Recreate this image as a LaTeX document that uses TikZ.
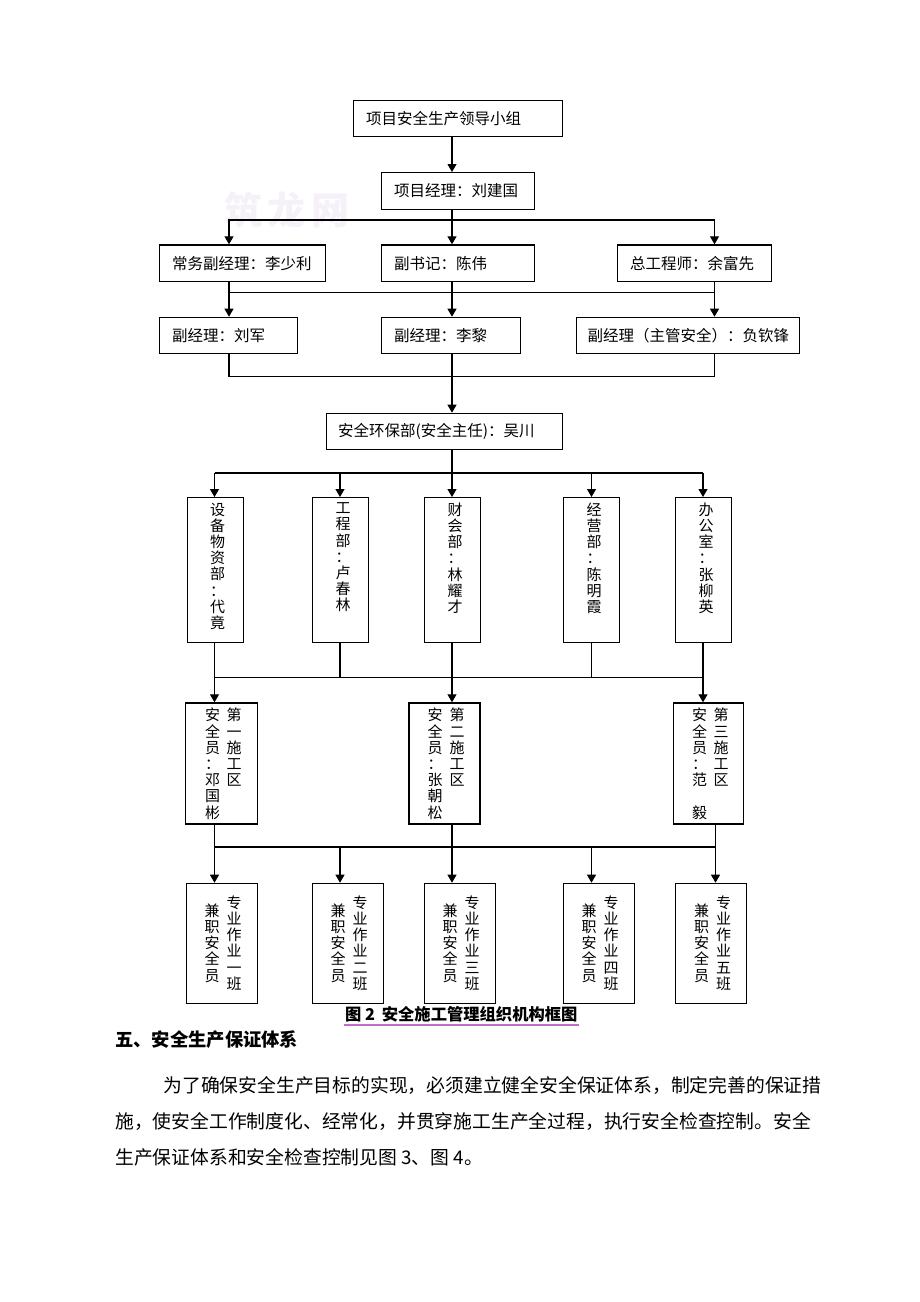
\documentclass[tikz,border=0pt]{standalone}
\usepackage{fontspec}
\setmainfont{Noto Sans CJK SC}
\newfontfamily\cjk{Noto Sans CJK SC}
\usetikzlibrary{arrows.meta}
\def\zhbreak{\XeTeXlinebreaklocale "zh"\XeTeXlinebreakskip=0pt plus 4pt\relax}
\definecolor{wmark}{RGB}{246,241,249}
\definecolor{spellline}{RGB}{190,110,200}
\tikzset{
  hbox/.style={draw,line width=1.2pt,anchor=north west,inner xsep=12.5pt,inner ysep=0pt,minimum height=36.5pt,align=left,font=\cjk\fontsize{15.5}{17}\selectfont},
  vbox/.style={draw,line width=1.2pt,anchor=north west,inner sep=0pt},
  dept/.style={vbox,minimum width=56pt,minimum height=145pt},
  zone/.style={vbox,minimum width=71pt,minimum height=121pt},
  crew/.style={vbox,minimum width=70.5pt,minimum height=120.5pt},
  vtext/.style={inner sep=0pt,align=center,font=\cjk\fontsize{15}{16.2}\selectfont},
  link/.style={line width=1.1pt},
  arr/.style={link,-{Triangle[length=8pt,width=9pt]}},
  para/.style={anchor=west,inner sep=0pt,font=\cjk\fontsize{18.8}{20}\selectfont\zhbreak},
}
\begin{document}
\begin{tikzpicture}[x=1pt,y=-1pt]
\fill[white] (0,0) rectangle (920,1302);
\node[font=\cjk\bfseries\fontsize{38}{40}\selectfont,text=wmark] (wm) at (287,210) {筑\hspace{6pt}龙\hspace{6pt}网};
\coordinate (cl) at (229,0);
\coordinate (cm) at (452,0);
\coordinate (cr) at (714.5,0);
\coordinate (ka) at (214.5,0);
\coordinate (kb) at (340,0);
\coordinate (kc) at (452,0);
\coordinate (kd) at (591.5,0);
\coordinate (ke) at (703,0);
\coordinate (kf) at (715.5,0);
\coordinate (bus1) at (0,220);
\coordinate (bus2) at (0,292.3);
\coordinate (bus3) at (0,376.7);
\coordinate (bus4) at (0,473);
\coordinate (bus5) at (0,677.5);
\coordinate (bus6) at (0,847);
\node[hbox,text width=184pt] (top) at (353,99.5) {项目安全生产领导小组};
\node[hbox,text width=128pt] (pm) at (381,172) {项目经理：刘建国};
\node[hbox,text width=141pt] (r3a) at (159,244.3) {常务副经理：李少利};
\node[hbox,text width=128pt] (r3b) at (381,244.3) {副书记：陈伟};
\node[hbox,text width=129pt] (r3c) at (617,244.3) {总工程师：余富先};
\node[hbox,text width=113pt] (r4a) at (159,316.7) {副经理：刘军};
\node[hbox,text width=114pt] (r4b) at (381,316.7) {副经理：李黎};
\node[hbox,inner xsep=11pt,text width=201pt] (r4c) at (576,316.7) {副经理（主管安全）：负钦锋};
\node[hbox,inner xsep=11.5pt,text width=213pt] (hse) at (326,412.7) {安全环保部(安全主任)：吴川};
\node[dept] (d1) at (186.5,497) {};
\node[dept] (d2) at (312,497) {};
\node[dept] (d3) at (424,497) {};
\node[dept] (d4) at (563,497) {};
\node[dept] (d5) at (675,497) {};
\node[vtext,anchor=north] (t1) at (217.5,502.5) {设\\备\\物\\资\\部\\：\\代\\竟};
\node[vtext,anchor=north] (t2) at (343,502.5) {工\\程\\部\\：\\卢\\春\\林};
\node[vtext,anchor=north] (t3) at (455,502.5) {财\\会\\部\\：\\林\\耀\\才};
\node[vtext,anchor=north] (t4) at (594,502.5) {经\\营\\部\\：\\陈\\明\\霞};
\node[vtext,anchor=north] (t5) at (706,502.5) {办\\公\\室\\：\\张\\柳\\英};
\node[zone,minimum width=72pt] (s1) at (185,702.3) {};
\node[zone] (s2) at (408.3,702.3) {};
\node[zone,minimum width=70pt] (s3) at (672.7,702.3) {};
\node[vtext,anchor=north] (z1r) at (234,708) {第\\一\\施\\工\\区};
\node[vtext,anchor=north] (z1l) at (212.5,708) {安\\全\\员\\：\\邓\\国\\彬};
\node[vtext,anchor=north] (z2r) at (457,708) {第\\二\\施\\工\\区};
\node[vtext,anchor=north] (z2l) at (435,708) {安\\全\\员\\：\\张\\朝\\松};
\node[vtext,anchor=north] (z3r) at (721,708) {第\\三\\施\\工\\区};
\node[vtext,anchor=north] (z3l) at (699.5,708) {安\\全\\员\\：\\范\\\mbox{}\\毅};
\node[crew] (b1) at (186,882.7) {};
\node[crew] (b2) at (312,882.7) {};
\node[crew] (b3) at (424,882.7) {};
\node[crew] (b4) at (563,882.7) {};
\node[crew] (b5) at (675,882.7) {};
\node[vtext] (c1r) at (234,943) {专\\业\\作\\业\\一\\班};
\node[vtext] (c1l) at (212,943) {兼\\职\\安\\全\\员};
\node[vtext] (c2r) at (360,943) {专\\业\\作\\业\\二\\班};
\node[vtext] (c2l) at (338,943) {兼\\职\\安\\全\\员};
\node[vtext] (c3r) at (472,943) {专\\业\\作\\业\\三\\班};
\node[vtext] (c3l) at (450,943) {兼\\职\\安\\全\\员};
\node[vtext] (c4r) at (611,943) {专\\业\\作\\业\\四\\班};
\node[vtext] (c4l) at (589,943) {兼\\职\\安\\全\\员};
\node[vtext] (c5r) at (723.5,943) {专\\业\\作\\业\\五\\班};
\node[vtext] (c5l) at (701.5,943) {兼\\职\\安\\全\\员};
\draw[arr] (cm |- top.south) -- (cm |- pm.north);
\draw[arr] (cm |- pm.south) -- (cm |- r3b.north);
\draw[arr] (cm |- bus1) -| (cl |- r3a.north);
\draw[arr] (cm |- bus1) -| (cr |- r3c.north);
\draw[arr] (cl |- r3a.south) -- (cl |- r4a.north);
\draw[arr] (cm |- r3b.south) -- (cm |- r4b.north);
\draw[arr] (cr |- r3c.south) -- (cr |- r4c.north);
\draw[link] (cl |- bus2) -- (cr |- bus2);
\draw[link] (cl |- r4a.south) |- (cr |- bus3) -- (cr |- r4c.south);
\draw[arr] (cm |- r4b.south) -- (cm |- hse.north);
\draw[link] (cm |- hse.south) -- (cm |- bus4);
\draw[link] (ka |- bus4) -- (ke |- bus4);
\foreach \px/\bx in {ka/d1,kb/d2,kc/d3,kd/d4,ke/d5} {
  \draw[arr] (\px |- bus4) -- (\px |- \bx.north);
  \draw[link] (\px |- \bx.south) -- (\px |- bus5);
}
\draw[link] (ka |- bus5) -- (ke |- bus5);
\draw[arr] (ka |- bus5) -- (ka |- s1.north);
\draw[arr] (kc |- bus5) -- (kc |- s2.north);
\draw[arr] (ke |- bus5) -- (ke |- s3.north);
\draw[link] (ka |- s1.south) -- (ka |- bus6);
\draw[link] (kc |- s2.south) -- (kc |- bus6);
\draw[link] (kf |- s3.south) -- (kf |- bus6);
\draw[link] (ka |- bus6) -- (kf |- bus6);
\foreach \px/\bx in {ka/b1,kb/b2,kc/b3,kd/b4,kf/b5}
  \draw[arr] (\px |- bus6) -- (\px |- \bx.north);
\node[anchor=west,inner sep=1pt,font=\cjk\bfseries\fontsize{16.3}{18}\selectfont] (cap) at (344,1014) {图 2\hspace{3pt} 安全施工管理组织机构框图};
\draw[spellline,line width=1.3pt] ([yshift=-2pt]cap.south west) -- ([yshift=-2pt]cap.south east);
\node[anchor=west,inner sep=0pt,font=\cjk\bfseries\fontsize{18.3}{20}\selectfont] (sec) at (115,1040) {五、安全生产保证体系};
\node[para] (p1) at (163.3,1085.7) {\makebox[655pt][s]{为了确保安全生产目标的实现，必须建立健全安全保证体系，制定完善的保证措}};
\node[para] (p2) at (115,1121.5) {\makebox[703pt][s]{施，使安全工作制度化、经常化，并贯穿施工生产全过程，执行安全检查控制。安全}};
\node[para] (p3) at (115,1157) {生产保证体系和安全检查控制见图 3、图 4。};
\end{tikzpicture}
\end{document}
